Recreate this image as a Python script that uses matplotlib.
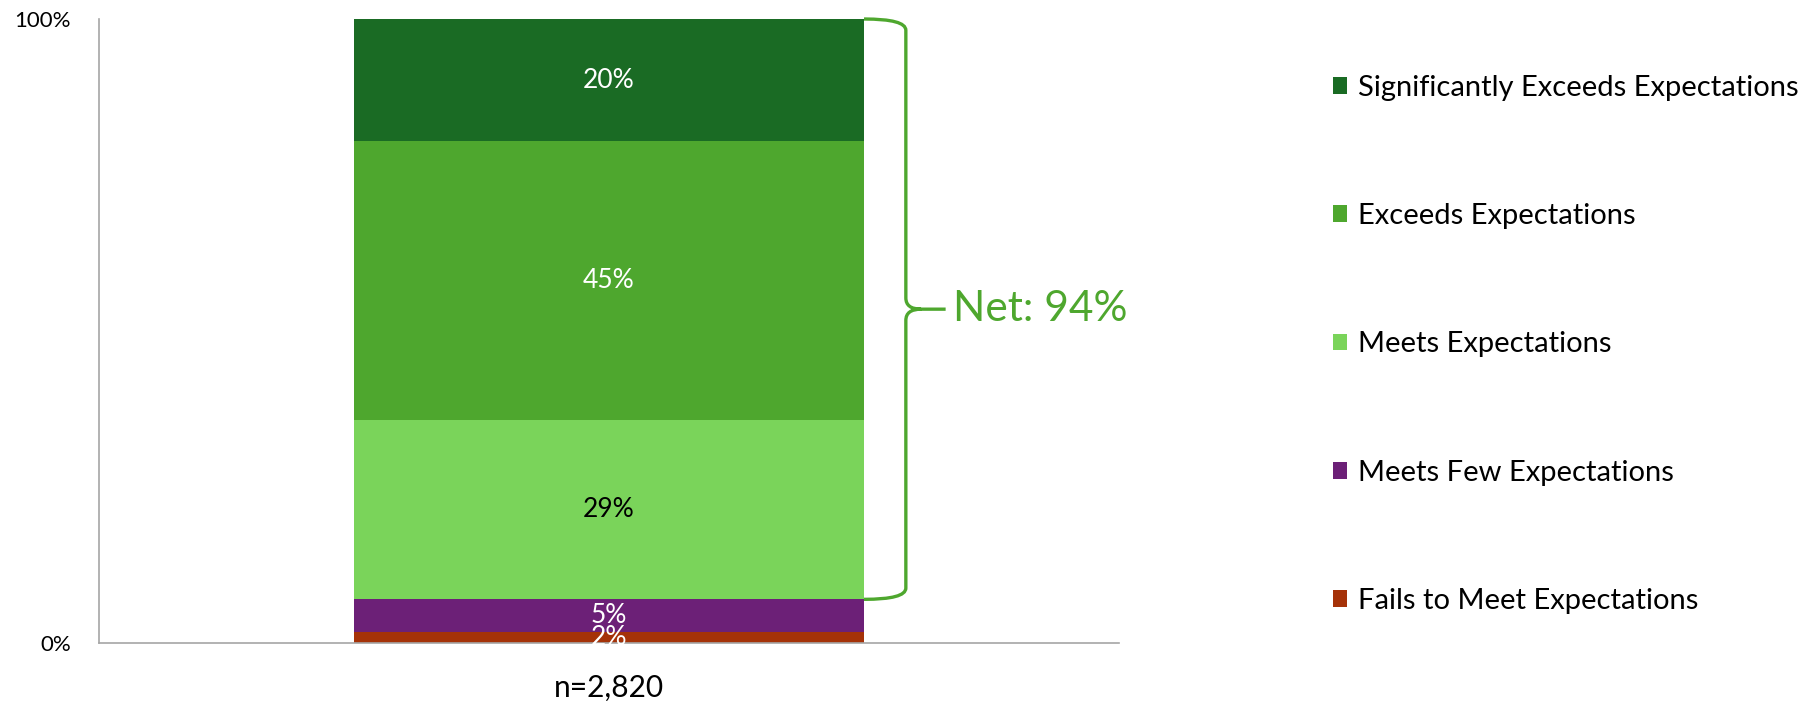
import numpy as np
import matplotlib.pyplot as plt
from matplotlib.patches import Patch, PathPatch
from matplotlib.path import Path

plt.rcParams["font.family"] = ["Lato", "DejaVu Sans"]

# Data (bottom to top)
categories = [
    "Fails to Meet Expectations",
    "Meets Few Expectations",
    "Meets Expectations",
    "Exceeds Expectations",
    "Significantly Exceeds Expectations",
]
values = [1.7, 5.3, 28.7, 44.7, 19.6]
labels = ["2%", "5%", "29%", "45%", "20%"]
colors = ["#A53208", "#6C2077", "#7AD45A", "#4EA72E", "#1A6B24"]
label_colors = ["white", "white", "black", "white", "white"]
x_label = "n=2,820"
net_label = "Net: 94%"
net_from = 2  # brace covers Meets Expectations and above

fig = plt.figure(figsize=(18.09, 7.01), dpi=100)
ax = fig.add_axes([0.0547, 0.0827, 0.5639, 0.8902])

bottom = 0.0
bottoms = []
for val, col, lab, lcol in zip(values, colors, labels, label_colors):
    ax.bar(0, val, width=1.0, bottom=bottom, color=col, edgecolor="none")
    ax.text(0, bottom + val / 2, lab, ha="center", va="center",
            fontsize=19, color=lcol)
    bottoms.append(bottom)
    bottom += val

ax.set_xlim(-1, 1)
ax.set_ylim(0, 100)
ax.set_xticks([0])
ax.set_xticklabels([x_label], fontsize=21.5)
ax.set_yticks([0, 100])
ax.set_yticklabels(["0%", "100%"], fontsize=16)
ax.tick_params(length=0)
ax.tick_params(axis="y", pad=20)
ax.tick_params(axis="x", pad=22)
for side in ["top", "right"]:
    ax.spines[side].set_visible(False)
for side in ["left", "bottom"]:
    ax.spines[side].set_color("#A6A6A6")
    ax.spines[side].set_linewidth(1.2)

# Curly brace for the net value
ytop = sum(values)
ybot = bottoms[net_from]
ymid = (ytop + ybot) / 2
x0, x1, x2 = 0.5, 0.582, 0.66
r = 1.8
verts = [
    (x0, ytop), (x1, ytop), (x1, ytop - r),
    (x1, ymid + r),
    (x1, ymid), (x1 + 0.03, ymid),
    (x2, ymid),
    (x1 + 0.03, ymid), (x1, ymid), (x1, ymid - r),
    (x1, ybot + r),
    (x1, ybot), (x0, ybot),
]
codes = [
    Path.MOVETO, Path.CURVE3, Path.CURVE3,
    Path.LINETO,
    Path.CURVE3, Path.CURVE3,
    Path.LINETO,
    Path.MOVETO, Path.CURVE3, Path.CURVE3,
    Path.LINETO,
    Path.CURVE3, Path.CURVE3,
]
ax.add_patch(PathPatch(Path(verts, codes), facecolor="none",
                       edgecolor="#4EA72E", linewidth=2.4, clip_on=False))
ax.text(x2 + 0.015, ymid, net_label, ha="left", va="center",
        fontsize=30.5, color="#4EA72E")

# Legend, top entry first
handles = [Patch(facecolor=c, edgecolor="none") for c in colors][::-1]
fig.legend(handles, categories[::-1], loc="upper left",
           bbox_to_anchor=(0.7366, 0.8937), frameon=False, fontsize=21,
           handlelength=0.51, handleheight=0.51, handletextpad=0.36,
           labelspacing=3.51, borderpad=0, borderaxespad=0)

fig.savefig("out.png", dpi=100)
